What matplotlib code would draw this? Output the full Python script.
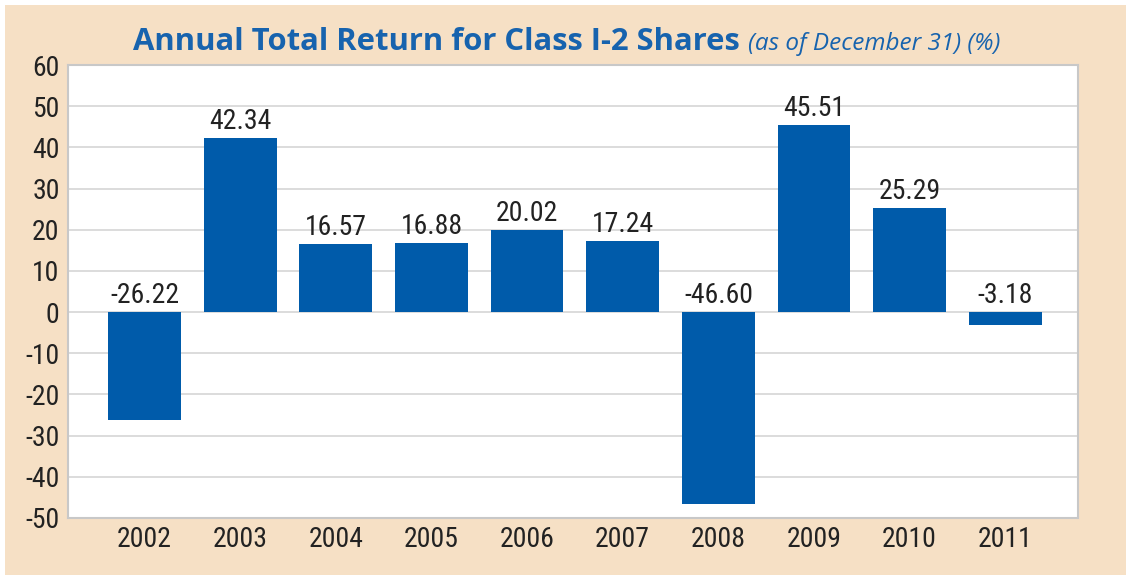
import matplotlib
matplotlib.use("Agg")
import matplotlib.pyplot as plt
from matplotlib.patches import Rectangle
from matplotlib import font_manager

years = ["2002", "2003", "2004", "2005", "2006", "2007", "2008", "2009", "2010", "2011"]
returns = [-26.22, 42.34, 16.57, 16.88, 20.02, 17.24, -46.60, 45.51, 25.29, -3.18]
value_labels = ["-26.22", "42.34", "16.57", "16.88", "20.02", "17.24", "-46.60", "45.51", "25.29", "-3.18"]
yticks = [60, 50, 40, 30, 20, 10, 0, -10, -20, -30, -40, -50]

names = {f.name for f in font_manager.fontManager.ttflist}
narrow = "Lato"
for cand in ["Liberation Sans Narrow", "Roboto Condensed", "Open Sans Condensed", "DejaVu Sans Condensed", "Lato"]:
    if cand in names:
        narrow = cand
        break

W, H = 1126, 575
fig = plt.figure(figsize=(W / 100, H / 100), dpi=100)
fig.patch.set_facecolor("white")
bg = "#F6E0C5"
fig.patches.append(Rectangle((5 / W, 0), 1 - 5 / W, 1 - 5 / H, transform=fig.transFigure,
                             facecolor=bg, edgecolor="none", zorder=-10))

left, right, top, bottom = 68, 1078, 65, 518
ax = fig.add_axes([left / W, 1 - bottom / H, (right - left) / W, (bottom - top) / H])
ax.set_zorder(5)
ax.set_facecolor("white")
x = list(range(len(years)))
bar_color = "#005BAA"
ax.bar(x, returns, width=0.76, color=bar_color, zorder=3)
ax.set_xlim(-0.8, len(years) - 1 + 0.76)
ax.set_ylim(-50, 60)
ax.set_yticks(yticks)
fs = 20
ax.set_yticklabels([str(t) for t in yticks], fontfamily=narrow, fontsize=fs, color="#222222")
ax.set_xticks(x)
ax.set_xticklabels(years, fontfamily=narrow, fontsize=fs, color="#222222")
ax.tick_params(length=0, pad=6)
ax.grid(axis="y", color="#D5D5D5", linewidth=1.2, zorder=1)
for s in ax.spines.values():
    s.set_color("#C8C8C8")
    s.set_linewidth(1.5)

for xi, v, lab in zip(x, returns, value_labels):
    y = v if v > 0 else 0
    ax.annotate(lab, (xi, y), xytext=(0, 2), textcoords="offset points", ha="center", va="bottom",
                fontfamily=narrow, fontsize=fs, color="#222222", zorder=4)

title_color = "#1763AE"
t1 = fig.text(133 / W, 1 - 42 / H, "Annual Total Return for Class I-2 Shares", fontsize=22.3,
              fontweight="bold", color=title_color, ha="left", va="center", fontfamily="Open Sans")
fig.canvas.draw()
bb = t1.get_window_extent()
fig.text((bb.x1 + 8) / W, 1 - 44 / H, "(as of December 31) (%)", fontsize=17.5, style="italic",
         color=title_color, ha="left", va="center", fontfamily="Open Sans")

fig.savefig("out.png", dpi=100, facecolor=fig.get_facecolor())
